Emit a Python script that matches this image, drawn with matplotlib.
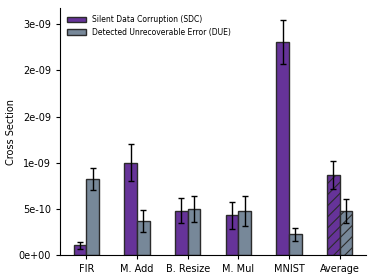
import matplotlib.pyplot as plt
import numpy as np
from matplotlib.ticker import FormatStrFormatter

benchmarks = ['FIR', 'M. Add', 'B. Resize', 'M. Mul', 'MNIST', 'Average']
sdc = [0.105e-9, 1.0e-9, 0.48e-9, 0.43e-9, 2.307e-9, 0.87e-9]
sdc_err = [0.04e-9, 0.2e-9, 0.135e-9, 0.15e-9, 0.24e-9, 0.15e-9]
due = [0.823e-9, 0.373e-9, 0.50e-9, 0.478e-9, 0.225e-9, 0.478e-9]
due_err = [0.115e-9, 0.12e-9, 0.14e-9, 0.163e-9, 0.073e-9, 0.13e-9]
ytick_vals = [i * 5e-10 for i in range(6)]

plt.rcParams['hatch.linewidth'] = 0.8

fig = plt.figure(figsize=(3.74, 2.8), dpi=100)
ax = fig.add_axes([0.160, 0.089, 0.819, 0.882])

x = np.arange(len(benchmarks))
w = 0.25
hatches = [''] * (len(benchmarks) - 1) + ['///']

b1 = ax.bar(x - w / 2, sdc, w, yerr=sdc_err, color='#663399', edgecolor='#2b2b2b',
            linewidth=1, capsize=2, error_kw={'elinewidth': 1, 'capthick': 1},
            label='Silent Data Corruption (SDC)')
b2 = ax.bar(x + w / 2, due, w, yerr=due_err, color='#778899', edgecolor='#2b2b2b',
            linewidth=1, capsize=2, error_kw={'elinewidth': 1, 'capthick': 1},
            label='Detected Unrecoverable Error (DUE)')
for bars in (b1, b2):
    for bar, h in zip(bars, hatches):
        bar.set_hatch(h)

ax.set_xticks(x)
ax.set_xticklabels(benchmarks, fontsize=7)
ax.set_yticks(ytick_vals)
ax.yaxis.set_major_formatter(FormatStrFormatter('%.0e'))
ax.tick_params(axis='y', labelsize=7, length=3)
ax.tick_params(axis='x', length=3)
ax.set_ylabel('Cross Section', fontsize=7, labelpad=2)
ax.spines['top'].set_visible(False)
ax.spines['right'].set_visible(False)
ax.legend(loc='upper left', fontsize=5.5, frameon=False, handlelength=2.5)

fig.savefig('out.png', dpi=100)
